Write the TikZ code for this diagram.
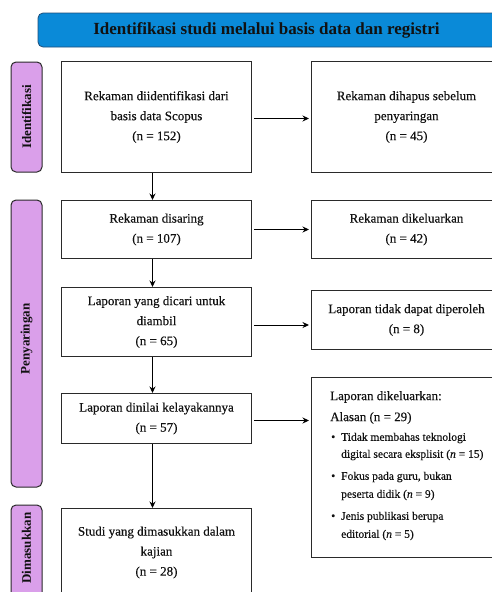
\documentclass[tikz,border=0pt]{standalone}
\usepackage{fontspec}
\setmainfont{Liberation Serif}[UprightFeatures={FakeBold=0.35},ItalicFeatures={FakeBold=0.35}]
\usetikzlibrary{arrows.meta}
\definecolor{hdrblue}{HTML}{0A8AD8}
\definecolor{hdredge}{HTML}{1F4E79}
\definecolor{sidefill}{HTML}{DA9FEA}
\definecolor{edgec}{HTML}{2A2A2A}
\definecolor{txt}{HTML}{111111}
\tikzset{
  mainbox/.style={draw=edgec, line width=1pt, fill=white, anchor=north west, inner sep=0pt,
    align=center, text=txt, font=\fontsize{13}{20}\selectfont},
  sidebox/.style={draw=edgec, line width=1pt, fill=sidefill, rounded corners=5pt},
  sidetext/.style={rotate=90, text=txt, font=\bfseries\fontsize{13}{14}\selectfont},
  flow/.style={draw=black, line width=1pt, -{Stealth[length=6.5pt,width=6pt]}},
  listtext/.style={anchor=west, inner sep=0pt, text=txt, font=\fontsize{11.5}{14}\selectfont},
}
\begin{document}
\begin{tikzpicture}[x=1pt,y=-1pt]
\useasboundingbox (0,0) rectangle (491,592);
\fill[white] (0,0) rectangle (491,592);

% header
\draw[fill=hdrblue, draw=hdredge, line width=0.8pt, rounded corners=5pt] (38,13) rectangle (530,47);
\node[text=txt, font=\bfseries\fontsize{17}{18}\selectfont] (hdr) at (266.5,30) {Identifikasi studi melalui basis data dan registri};

% side labels
\draw[sidebox] (11,62) rectangle (42,172);
\node[sidetext] (sid1) at (26.5,117) {Identifikasi};
\draw[sidebox] (11,200) rectangle (42,487);
\node[sidetext] (sid2) at (26.5,339) {Penyaringan};
\draw[sidebox] (11,505) rectangle (42,600);
\node[sidetext] (sid3) at (26.5,548) {Dimasukkan};

% left column
\node[mainbox, minimum width=190pt, minimum height=111pt] (b1) at (61,61)
  {Rekaman diidentifikasi dari\\basis data Scopus\\(n = 152)};
\node[mainbox, minimum width=190pt, minimum height=58pt] (b2) at (61,200)
  {Rekaman disaring\\(n = 107)};
\node[mainbox, minimum width=190pt, minimum height=69pt] (b3) at (61,287)
  {Laporan yang dicari untuk\\diambil\\(n = 65)};
\node[mainbox, minimum width=190pt, minimum height=50pt] (b4) at (61,393)
  {Laporan dinilai kelayakannya\\(n = 57)};
\node[mainbox, minimum width=190pt, minimum height=88pt] (b5) at (61,508)
  {Studi yang dimasukkan dalam\\kajian\\(n = 28)};

% right column
\node[mainbox, minimum width=190pt, minimum height=111pt] (r1) at (311,61)
  {Rekaman dihapus sebelum\\penyaringan\\(n = 45)};
\node[mainbox, minimum width=190pt, minimum height=58pt] (r2) at (311,200)
  {Rekaman dikeluarkan\\(n = 42)};
\node[mainbox, minimum width=190pt, minimum height=59pt] (r3) at (311,290)
  {Laporan tidak dapat diperoleh\\(n = 8)};
\node[mainbox, minimum width=190pt, minimum height=180pt] (r4) at (311,377) {};

% list text in r4
\node[listtext, font=\fontsize{13}{14}\selectfont] (t1) at (330,397) {Laporan dikeluarkan:};
\node[listtext, font=\fontsize{13}{14}\selectfont] (t2) at (330,418) {Alasan (n = 29)};
\node[listtext] (u1) at (331,438) {\textbullet};
\node[listtext] (t3) at (341,438) {Tidak membahas teknologi};
\node[listtext] (t4) at (341,455) {digital secara eksplisit (\textit{n} = 15)};
\node[listtext] (u2) at (331,477) {\textbullet};
\node[listtext] (t5) at (341,477) {Fokus pada guru, bukan};
\node[listtext] (t6) at (341,495) {peserta didik (\textit{n} = 9)};
\node[listtext] (u3) at (331,517) {\textbullet};
\node[listtext] (t7) at (341,517) {Jenis publikasi berupa};
\node[listtext] (t8) at (341,535) {editorial (\textit{n} = 5)};

% vertical arrows
\draw[flow] ([xshift=-4pt]b1.south) -- ([xshift=-4pt]b2.north);
\draw[flow] ([xshift=-4pt]b2.south) -- ([xshift=-4pt]b3.north);
\draw[flow] ([xshift=-4pt]b3.south) -- ([xshift=-4pt]b4.north);
\draw[flow] ([xshift=-4pt]b4.south) -- ([xshift=-4pt]b5.north);

% horizontal arrows
\draw[flow, shorten <=2pt, shorten >=2pt] ([yshift=-1.5pt]b1.east) -- ([yshift=-1.5pt]b1.east -| r1.west);
\draw[flow, shorten <=2pt, shorten >=2pt] (b2.east) -- (b2.east -| r2.west);
\draw[flow, shorten <=2pt, shorten >=2pt] ([yshift=-3pt]b3.east) -- ([yshift=-3pt]b3.east -| r3.west);
\draw[flow, shorten <=2pt, shorten >=2pt] ([yshift=-2pt]b4.east) -- ([yshift=-2pt]b4.east -| r4.west);
\end{tikzpicture}
\end{document}
